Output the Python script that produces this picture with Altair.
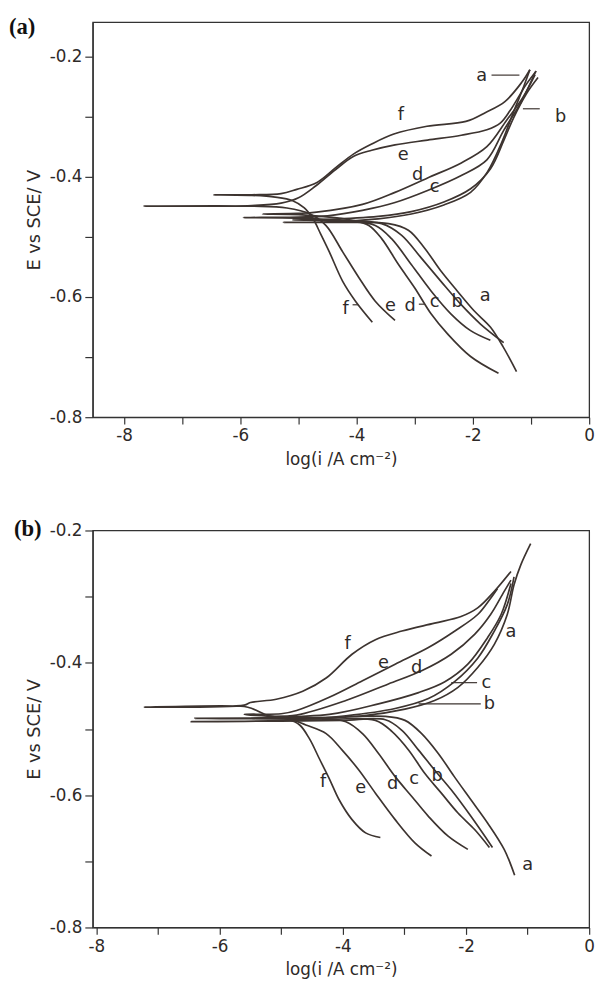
import altair as alt
import pandas as pd

# ---------------- Panel (a): polarization curves, points (log i, E) ----------------
PA_a = [(-1.25, -0.724), (-1.48, -0.683), (-1.70, -0.650), (-1.98, -0.623), (-2.27, -0.590),
        (-2.55, -0.557), (-2.83, -0.519), (-3.11, -0.489), (-3.45, -0.478), (-4.20, -0.476),
        (-5.26, -0.476), (-4.50, -0.475), (-3.63, -0.470), (-3.06, -0.462), (-2.50, -0.447),
        (-2.04, -0.426), (-1.75, -0.392), (-1.50, -0.342), (-1.30, -0.292), (-1.15, -0.256),
        (-1.02, -0.222)]
PA_b = [(-1.47, -0.676), (-1.87, -0.645), (-2.21, -0.612), (-2.55, -0.574), (-2.89, -0.535),
        (-3.23, -0.497), (-3.57, -0.478), (-4.20, -0.473), (-5.10, -0.472), (-4.50, -0.471),
        (-3.63, -0.466), (-3.06, -0.458), (-2.50, -0.442), (-2.04, -0.420), (-1.70, -0.387),
        (-1.47, -0.340), (-1.30, -0.302), (-1.08, -0.262), (-0.88, -0.235)]
PA_c = [(-1.70, -0.672), (-2.04, -0.656), (-2.38, -0.628), (-2.72, -0.590), (-3.06, -0.546),
        (-3.40, -0.503), (-3.68, -0.481), (-4.20, -0.474), (-5.00, -0.469), (-5.95, -0.468),
        (-5.00, -0.467), (-4.50, -0.465), (-3.90, -0.456), (-3.34, -0.443), (-2.78, -0.423),
        (-2.20, -0.398), (-1.76, -0.372), (-1.47, -0.323), (-1.19, -0.279), (-0.92, -0.225)]
PA_d = [(-1.56, -0.727), (-2.04, -0.699), (-2.44, -0.661), (-2.72, -0.628), (-3.00, -0.585),
        (-3.28, -0.546), (-3.57, -0.503), (-3.79, -0.481), (-4.10, -0.472), (-4.60, -0.466),
        (-5.00, -0.463), (-5.62, -0.462), (-5.00, -0.461), (-4.69, -0.459), (-3.90, -0.446),
        (-3.34, -0.426), (-2.78, -0.402), (-2.20, -0.377), (-1.76, -0.350), (-1.42, -0.306),
        (-1.14, -0.268), (-0.93, -0.230)]
PA_e = [(-3.34, -0.639), (-3.68, -0.607), (-3.96, -0.568), (-4.24, -0.525), (-4.53, -0.481),
        (-4.80, -0.462), (-5.20, -0.452), (-5.80, -0.449), (-7.66, -0.449), (-5.80, -0.448),
        (-5.30, -0.444), (-5.00, -0.435), (-4.70, -0.415), (-4.36, -0.388), (-4.05, -0.366),
        (-3.74, -0.356), (-3.34, -0.347), (-2.78, -0.339), (-2.20, -0.331), (-1.76, -0.322),
        (-1.53, -0.311), (-1.36, -0.290), (-1.08, -0.246), (-0.91, -0.224)]
PA_f = [(-3.73, -0.642), (-4.02, -0.607), (-4.24, -0.574), (-4.47, -0.525), (-4.62, -0.495),
        (-4.75, -0.470), (-4.90, -0.452), (-5.10, -0.440), (-5.40, -0.434), (-5.80, -0.431),
        (-6.46, -0.430), (-5.80, -0.430), (-5.30, -0.428), (-5.03, -0.421), (-4.69, -0.410),
        (-4.36, -0.385), (-4.05, -0.362), (-3.75, -0.346), (-3.36, -0.329), (-2.79, -0.316),
        (-2.12, -0.308), (-1.78, -0.293), (-1.45, -0.275), (-1.16, -0.243), (-1.02, -0.222)]

LA_text = ["a", "b", "f", "e", "d", "c", "f", "e", "d", "c", "b", "a"]
LA_x = [-1.85, -0.49, -3.24, -3.20, -2.95, -2.66, -4.19, -3.42, -3.08, -2.66, -2.27, -1.79]
LA_E = [-0.233, -0.300, -0.298, -0.364, -0.397, -0.418, -0.620, -0.615, -0.615, -0.609, -0.609, -0.598]
LEAD_A_x1 = [-1.68, -1.14, -4.07, -2.93]
LEAD_A_x2 = [-1.20, -0.85, -3.97, -2.84]
LEAD_A_E = [-0.231, -0.287, -0.613, -0.612]

# ---------------- Panel (b) ----------------
PB_a = [(-1.21, -0.721), (-1.38, -0.682), (-1.65, -0.642), (-1.92, -0.607), (-2.19, -0.572),
        (-2.45, -0.537), (-2.72, -0.507), (-2.99, -0.487), (-3.31, -0.481), (-4.50, -0.484),
        (-6.40, -0.484), (-5.00, -0.483), (-3.68, -0.480), (-2.99, -0.470), (-2.51, -0.457),
        (-2.13, -0.437), (-1.81, -0.407), (-1.54, -0.372), (-1.33, -0.327), (-1.22, -0.282),
        (-1.11, -0.252), (-0.95, -0.220)]
PB_b = [(-1.57, -0.679), (-1.92, -0.632), (-2.24, -0.592), (-2.51, -0.562), (-2.77, -0.532),
        (-3.04, -0.502), (-3.31, -0.486), (-4.00, -0.487), (-5.00, -0.488), (-6.46, -0.489),
        (-5.00, -0.487), (-3.95, -0.480), (-3.15, -0.469), (-2.61, -0.454), (-2.18, -0.428),
        (-1.81, -0.393), (-1.54, -0.352), (-1.33, -0.312), (-1.22, -0.270)]
PB_c = [(-1.62, -0.679), (-1.86, -0.652), (-2.13, -0.627), (-2.40, -0.597), (-2.67, -0.567),
        (-2.93, -0.532), (-3.20, -0.504), (-3.47, -0.487), (-4.20, -0.485), (-5.50, -0.484),
        (-4.22, -0.478), (-3.42, -0.462), (-2.77, -0.445), (-2.35, -0.429), (-1.97, -0.402),
        (-1.65, -0.362), (-1.43, -0.327), (-1.27, -0.280)]
PB_d = [(-1.97, -0.682), (-2.29, -0.662), (-2.61, -0.632), (-2.88, -0.602), (-3.15, -0.572),
        (-3.42, -0.537), (-3.68, -0.507), (-3.95, -0.489), (-4.50, -0.483), (-5.20, -0.481),
        (-4.75, -0.479), (-3.95, -0.457), (-3.26, -0.432), (-2.72, -0.412), (-2.24, -0.387),
        (-1.86, -0.357), (-1.60, -0.327), (-1.38, -0.292), (-1.27, -0.275)]
PB_e = [(-2.56, -0.692), (-2.83, -0.672), (-3.15, -0.637), (-3.47, -0.597), (-3.74, -0.562),
        (-4.01, -0.532), (-4.27, -0.507), (-4.60, -0.494), (-4.90, -0.484), (-5.60, -0.478),
        (-5.00, -0.477), (-4.75, -0.472), (-4.22, -0.452), (-3.68, -0.427), (-3.15, -0.402),
        (-2.61, -0.377), (-2.18, -0.352), (-1.81, -0.327), (-1.62, -0.305), (-1.49, -0.288)]
PB_f = [(-3.39, -0.664), (-3.63, -0.657), (-3.85, -0.637), (-4.06, -0.607), (-4.22, -0.575),
        (-4.38, -0.545), (-4.54, -0.515), (-4.70, -0.494), (-4.90, -0.485), (-5.20, -0.480),
        (-5.45, -0.470), (-5.60, -0.466), (-7.22, -0.467), (-5.60, -0.464), (-5.50, -0.460),
        (-5.08, -0.455), (-4.65, -0.443), (-4.27, -0.423), (-3.85, -0.387), (-3.47, -0.365),
        (-3.04, -0.352), (-2.51, -0.340), (-2.08, -0.330), (-1.81, -0.317), (-1.54, -0.292),
        (-1.27, -0.262)]

LB_text = ["f", "e", "d", "a", "c", "b", "f", "e", "d", "c", "b", "a"]
LB_x = [-3.92, -3.34, -2.80, -1.27, -1.67, -1.62, -4.32, -3.71, -3.19, -2.84, -2.47, -1.00]
LB_E = [-0.372, -0.401, -0.408, -0.353, -0.430, -0.462, -0.580, -0.590, -0.583, -0.575, -0.571, -0.706]
LEAD_B_x1 = [-2.24, -2.77]
LEAD_B_x2 = [-1.82, -1.76]
LEAD_B_E = [-0.430, -0.462]

X_TICKS = [-8, -7, -6, -5, -4, -3, -2, -1, 0]
X_LABELS = [-8, -6, -4, -2, 0]
Y_TICKS = [-0.8, -0.7, -0.6, -0.5, -0.4, -0.3, -0.2]
Y_LABELS = [-0.8, -0.6, -0.4, -0.2]

LINE_COLOR = "#3d3430"
INK = "#2e2a28"
FONT = "DejaVu Sans"


def curves_df(curves):
    rows = []
    for name, pts in curves.items():
        for k, (x, e) in enumerate(pts):
            rows.append({"curve": name, "k": k, "x": x, "E": e})
    return pd.DataFrame(rows)


def panel(curves, ltext, lx, le, lx1, lx2, lE, xdom, ydom, tag, tag_x, tag_y, h):
    df = curves_df(curves)
    lab = pd.DataFrame({"t": ltext, "x": lx, "E": le})
    lead = pd.DataFrame({"x": lx1, "x2": lx2, "E": lE})
    xlab = "indexof(" + str(X_LABELS) + ", datum.value) >= 0 ? datum.value + '' : ''"
    ylab = "indexof(" + str(Y_LABELS) + ", datum.value) >= 0 ? datum.value + '' : ''"
    X = alt.X("x:Q", scale=alt.Scale(domain=xdom, nice=False, zero=False),
              axis=alt.Axis(values=X_TICKS, labelExpr=xlab, title="log(i /A cm\u207b\u00b2)",
                            grid=False, tickSize=7, labelPadding=4, titlePadding=8,
                            labelFlush=False, labelOverlap=False,
                            labelFont=FONT, labelFontSize=17, labelColor=INK,
                            titleFont=FONT, titleFontSize=17, titleFontWeight="normal",
                            titleColor=INK, domainColor="#333", tickColor="#333",
                            domainWidth=1.3, tickWidth=1.2))
    Y = alt.Y("E:Q", scale=alt.Scale(domain=ydom, nice=False, zero=False),
              axis=alt.Axis(values=Y_TICKS, labelExpr=ylab, title="E vs SCE/ V",
                            grid=False, tickSize=8, labelPadding=3, titlePadding=6,
                            labelFlush=False, labelOverlap=False,
                            labelFont=FONT, labelFontSize=17, labelColor=INK,
                            titleFont=FONT, titleFontSize=18, titleFontWeight="normal",
                            titleColor=INK, domainColor="#333", tickColor="#333",
                            domainWidth=1.3, tickWidth=1.2))
    lines = alt.Chart(df).mark_line(color=LINE_COLOR, strokeWidth=1.7, clip=True,
                                    interpolate="catmull-rom").encode(
        x=X, y=Y, detail="curve:N", order="k:Q")
    leaders = alt.Chart(lead).mark_rule(color=LINE_COLOR, strokeWidth=1.2).encode(
        x=X, x2="x2:Q", y=Y)
    texts = alt.Chart(lab).mark_text(font=FONT, fontSize=18, color=INK,
                                     align="center", baseline="middle").encode(
        x=X, y=Y, text="t:N")
    tagc = alt.Chart(pd.DataFrame({"t": [tag]})).mark_text(
        font="Liberation Serif", fontWeight="bold", fontSize=23, color="#111",
        align="left", baseline="top").encode(
        x=alt.value(tag_x), y=alt.value(tag_y), text="t:N")
    return alt.layer(lines, leaders, texts, tagc).properties(width=504, height=h)


pa = panel({"a": PA_a, "b": PA_b, "c": PA_c, "d": PA_d, "e": PA_e, "f": PA_f},
           LA_text, LA_x, LA_E, LEAD_A_x1, LEAD_A_x2, LEAD_A_E,
           [-8.54, 0], [-0.8, -0.143], "(a)", -85, -6, 401)
pb = panel({"a": PB_a, "b": PB_b, "c": PB_c, "d": PB_d, "e": PB_e, "f": PB_f},
           LB_text, LB_x, LB_E, LEAD_B_x1, LEAD_B_x2, LEAD_B_E,
           [-8.06, 0], [-0.8, -0.2], "(b)", -80, -12, 403)

chart = alt.vconcat(pa, pb, spacing=50).properties(
    padding={"left": 0, "top": 0, "right": 5, "bottom": 0},
    background="white"
).configure_view(stroke="#333", strokeWidth=1.3)

chart.save("out.html", embed_options={"renderer": "svg", "actions": False})
